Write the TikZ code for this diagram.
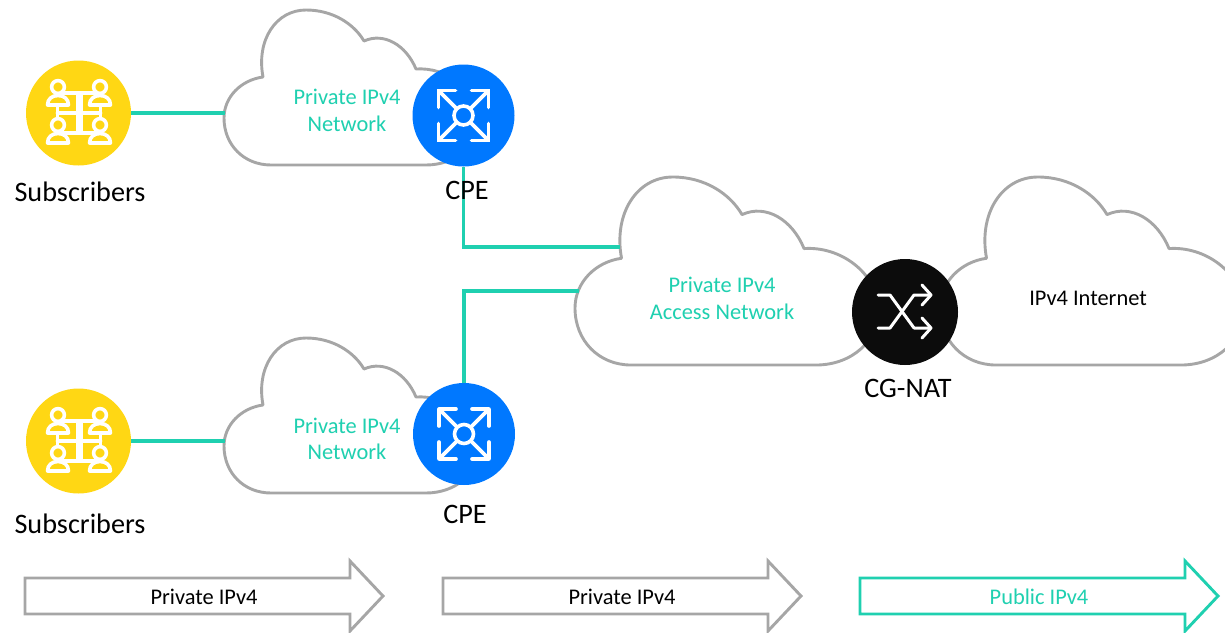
\documentclass[tikz,border=0pt]{standalone}
\usepackage{fontspec}
\setmainfont{Carlito}
\definecolor{teal1}{HTML}{1FD0B0}
\definecolor{gray1}{HTML}{A6A6A6}
\definecolor{arrowgray}{HTML}{A6A6A6}
\definecolor{yellow1}{HTML}{FFD714}
\definecolor{blue1}{HTML}{0078FF}
\definecolor{black1}{HTML}{0C0C0C}
\newcommand\cloudpath{(47,155) .. controls (20,155) and (0,135) .. (0,108) .. controls (0,87) and (17,70) .. (39,67) .. controls (32,30) and (52,0) .. (82,0) .. controls (109,0) and (130,14) .. (140,31) .. controls (160,22) and (182,35) .. (192,59) .. controls (222,57) and (252,78) .. (255,108) .. controls (255,135) and (232,155) .. (202,155) -- cycle}
\newcommand\blockpath{(0,578) -- (325,578) -- (325,561) -- (358,596) -- (325,631) -- (325,614) -- (0,614) -- cycle}
\tikzset{
  cloudline/.style={draw=gray1,line width=2.9pt,fill=white,line join=round},
  link/.style={draw=teal1,line width=3.1pt},
  disc/.style={circle,inner sep=0pt,minimum size=#1},
  big/.style={font=\fontsize{28.2}{32}\selectfont,text=black,inner sep=0pt},
  tealtext/.style={font=\fontsize{22.4}{26}\selectfont,text=teal1,inner sep=0pt},
  blacktext/.style={font=\fontsize{22.4}{26}\selectfont,text=black,inner sep=0pt},
  glyph/.style={draw=white,line width=3.6pt,line cap=round,line join=round},
  blockgray/.style={draw=arrowgray,line width=2.9pt,fill=white,line join=miter},
  blockteal/.style={draw=teal1,line width=2.9pt,fill=white,line join=miter},
  people/.pic={
    \draw[glyph] (-21,-20) rectangle (22,20);
    \draw[glyph] (-21,0) -- (22,0);
    \fill[white] (-3,-20) rectangle (4,20);
    \foreach \yy in {-26,12}{
      \foreach \xx in {-20.5,21.5}{
        \draw[glyph,fill=yellow1] (\xx,\yy) circle[radius=6.4pt];
        \draw[glyph,fill=yellow1] (\xx-10.5,\yy+18) .. controls (\xx-10.5,\yy+12) and (\xx-6,\yy+8.5) .. (\xx,\yy+8.5) .. controls (\xx+6,\yy+8.5) and (\xx+10.5,\yy+12) .. (\xx+10.5,\yy+18) -- cycle;
      }
    }
  },
  fanout/.pic={
    \draw[glyph] (0,0) circle[radius=9.5pt];
    \foreach \sx/\sy in {-1/-1,1/-1,-1/1,1/1}{
      \draw[glyph] (\sx*7,\sy*7) -- (\sx*25,\sy*25);
      \draw[glyph] (\sx*8,\sy*25) -- (\sx*25,\sy*25) -- (\sx*25,\sy*8);
    }
  },
  shuffle/.pic={
    \draw[glyph,line width=3pt] (-27,-17) -- (-15,-17) -- (9,16) -- (26,16);
    \draw[glyph,line width=3pt] (-27,16) -- (-15,16) -- (9,-17) -- (26,-17);
    \draw[glyph,line width=3pt] (17,-27) -- (26,-17) -- (17,-7);
    \draw[glyph,line width=3pt] (17,6) -- (26,16) -- (17,26);
  }
}
\begin{document}
\begin{tikzpicture}[x=1pt,y=-1pt]
\clip (0,0) rectangle (1225,632);
% clouds
\path[cloudline,shift={(224,10)}] \cloudpath;
\path[cloudline,shift={(224,338)}] \cloudpath;
\path[cloudline,shift={(575,177)},xscale=1.193,yscale=1.213] \cloudpath;
\path[cloudline,shift={(940,177)},xscale=1.193,yscale=1.213] \cloudpath;
% attachment points on clouds
\coordinate (cloudA) at (225,113);
\coordinate (cloudB) at (225,441);
\coordinate (accessA) at (620,247);
\coordinate (accessB) at (579,291);
% discs
\node[disc=105pt,fill=yellow1] (sub1) at (78.5,113) {};
\node[disc=105pt,fill=yellow1] (sub2) at (78.5,441) {};
\node[disc=102pt,fill=blue1] (cpe1) at (463.5,115.5) {};
\node[disc=102pt,fill=blue1] (cpe2) at (464,434) {};
\node[disc=106pt,fill=black1] (nat) at (905,312) {};
% connectors
\draw[link] (sub1) -- (cloudA);
\draw[link] (sub2) -- (cloudB);
\draw[link] (cpe1.south) |- (accessA);
\draw[link] (cpe2.north) |- (accessB);
% icons
\pic at (sub1) {people};
\pic at (sub2) {people};
\pic at (cpe1) {fanout};
\pic at (cpe2) {fanout};
\pic at (nat) {shuffle};
% labels
\node[big] (lsub1) at (80,192) {Subscribers};
\node[big] (lsub2) at (80,524) {Subscribers};
\node[big] (lcpe1) at (467,190) {CPE};
\node[big] (lcpe2) at (465,514) {CPE};
\node[big] (lnat) at (908,388) {CG-NAT};
\node[tealtext] (n1a) at (347,97) {Private IPv4};
\node[tealtext] (n1b) at (347,124) {Network};
\node[tealtext] (n2a) at (347,426) {Private IPv4};
\node[tealtext] (n2b) at (347,452) {Network};
\node[tealtext] (n3a) at (722,285) {Private IPv4};
\node[tealtext] (n3b) at (722,312) {Access Network};
\node[blacktext] (inet) at (1088,298) {IPv4 Internet};
% block arrows
\path[blockgray,shift={(25,0)}] \blockpath;
\path[blockgray,shift={(443,0)}] \blockpath;
\path[blockteal,shift={(860,0)}] \blockpath;
\node[blacktext] (b1) at (204,597) {Private IPv4};
\node[blacktext] (b2) at (622,597) {Private IPv4};
\node[blacktext,text=teal1] (b3) at (1039,597) {Public IPv4};
\end{tikzpicture}
\end{document}
